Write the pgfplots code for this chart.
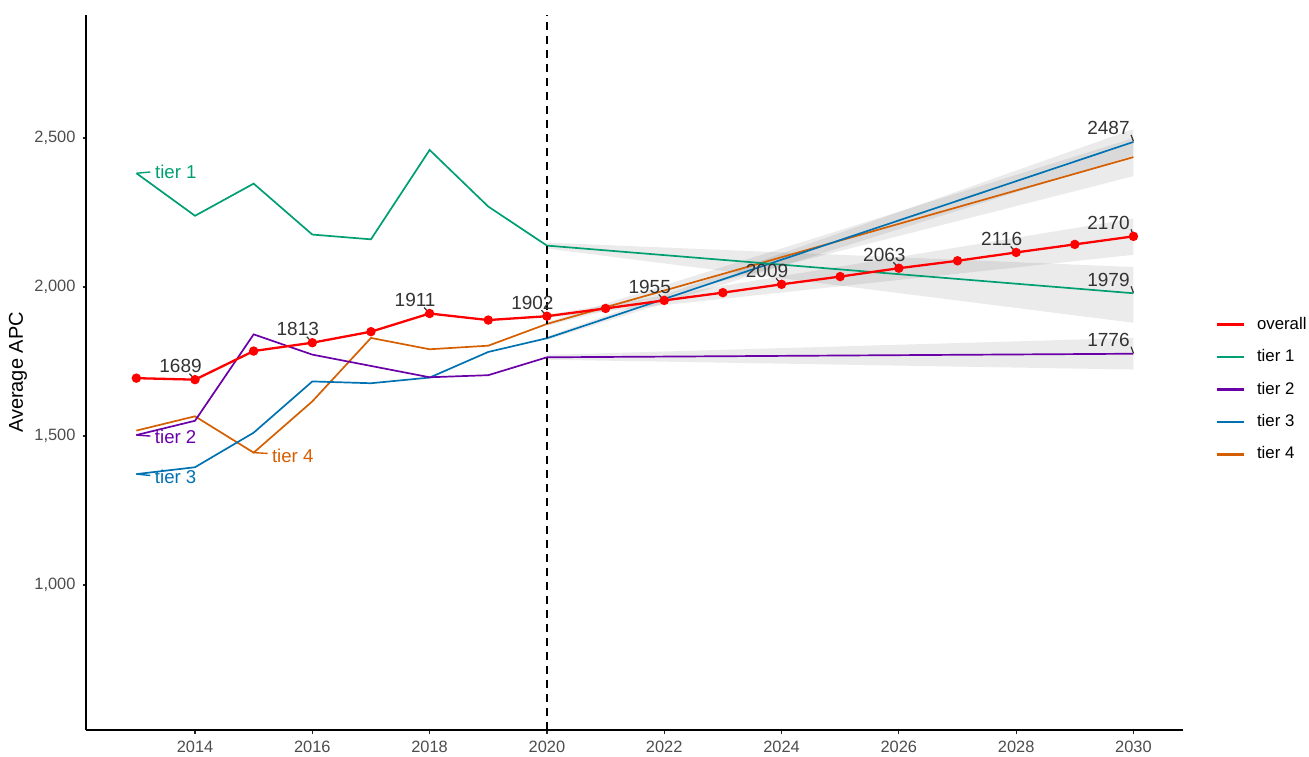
\documentclass[border=0pt]{standalone}
\usepackage{fontspec}
\setmainfont{Liberation Sans}
\usepackage{pgfplots}
\usepackage{pgfplotstable}
\pgfplotsset{compat=1.18}
\definecolor{cRed}{HTML}{FF0000}
\definecolor{cGreen}{HTML}{009E73}
\definecolor{cPurple}{HTML}{6A00A8}
\definecolor{cBlue}{HTML}{0072B2}
\definecolor{cOrange}{HTML}{D55E00}
\definecolor{tickgray}{HTML}{4D4D4D}
\definecolor{labgray}{HTML}{333333}

\pgfplotstableread{
year val
2013 1694
2014 1689
2015 1785
2016 1813
2017 1850
2018 1911
2019 1889
2020 1902
2021 1928
2022 1955
2023 1981
2024 2009
2025 2035
2026 2063
2027 2088
2028 2116
2029 2143
2030 2170
}\overall
\pgfplotstableread{
year val
2013 2382
2014 2239
2015 2347
2016 2176
2017 2160
2018 2460
2019 2270
2020 2139
2030 1979
}\tierA
\pgfplotstableread{
year val
2013 1503
2014 1551
2015 1841
2016 1773
2017 1735
2018 1697
2019 1704
2020 1764
2030 1776
}\tierB
\pgfplotstableread{
year val
2013 1372
2014 1395
2015 1511
2016 1683
2017 1677
2018 1696
2019 1782
2020 1828
2030 2487
}\tierC
\pgfplotstableread{
year val
2013 1518
2014 1566
2015 1444
2016 1616
2017 1829
2018 1791
2019 1803
2020 1876
2030 2436
}\tierD

\tikzset{
  vlab/.style={text=labgray, font=\fontsize{9.5}{11}\selectfont, inner sep=0pt},
  tlab/.style={font=\fontsize{9.3}{11}\selectfont, inner sep=0pt, anchor=west},
  lead/.style={labgray, line width=0.6pt},
}

\begin{document}
\begin{tikzpicture}
\begin{axis}[
  at={(0pt,0pt)}, anchor=south west,
  scale only axis, width=548.25pt, height=357.5pt,
  xmin=2012.15, xmax=2030.845, ymin=513, ymax=2913,
  axis x line*=bottom, axis y line*=left,
  axis line style={line width=1pt, black, -},
  xtick={2014,2016,2018,2020,2022,2024,2026,2028,2030},
  ytick={1000,1500,2000,2500},
  tick align=outside,
  major tick length=2pt,
  tick style={line width=0.6pt, black!85},
  /pgf/number format/assume math mode=true,
  xticklabel style={font=\fontsize{8.2}{9}\selectfont, text=tickgray, /pgf/number format/1000 sep={}},
  yticklabel style={font=\fontsize{8.2}{9}\selectfont, text=tickgray, /pgf/number format/fixed, /pgf/number format/precision=0, /pgf/number format/1000 sep={,}},
  ylabel={Average APC},
  ylabel style={font=\fontsize{10}{12}\selectfont, at={(axis description cs:-0.0625,0.5)}, anchor=center},
  legend style={at={(1.0292,0.4762)}, anchor=west, draw=none, fill=none, inner sep=0pt,
    font=\fontsize{8.4}{10}\selectfont, row sep=4.6pt, column sep=4pt},
  legend cell align=left,
  legend image code/.code={\draw[#1] (0pt,0pt) -- (13.5pt,0pt);},
]
% bands
\addplot[forget plot, draw=none, fill=black, fill opacity=0.08] coordinates {(2020,2149) (2030,2067) (2030,1880) (2020,2129) (2020,2149)};
\addplot[forget plot, draw=none, fill=black, fill opacity=0.08] coordinates {(2020,1772) (2030,1829) (2030,1723) (2020,1756) (2020,1772)};
\addplot[forget plot, draw=none, fill=black, fill opacity=0.08] coordinates {(2020,1834) (2030,2530) (2030,2442) (2020,1822) (2020,1834)};
\addplot[forget plot, draw=none, fill=black, fill opacity=0.08] coordinates {(2020,1882) (2030,2500) (2030,2372) (2020,1870) (2020,1882)};
\addplot[forget plot, draw=none, fill=black, fill opacity=0.08] coordinates {(2020,1907) (2030,2230) (2030,2108) (2020,1897) (2020,1907)};
% tier lines
\addplot[forget plot, cOrange, line width=0.85pt] table[x=year, y=val] {\tierD};
\addplot[forget plot, cBlue, line width=0.85pt] table[x=year, y=val] {\tierC};
\addplot[forget plot, cPurple, line width=0.85pt] table[x=year, y=val] {\tierB};
\addplot[forget plot, cGreen, line width=0.85pt] table[x=year, y=val] {\tierA};
% vertical dashed line
\addplot[forget plot, black, line width=0.9pt, dash pattern=on 4pt off 3pt] coordinates {(2020,513) (2020,2913)};
% overall
\addplot[forget plot, cRed, line width=1.15pt, mark=*, mark size=1.75pt, mark options={solid, fill=cRed, draw=cRed}] table[x=year, y=val] {\overall};

% legend
\addlegendimage{cRed, line width=1.3pt}\addlegendentry{overall}
\addlegendimage{cGreen, line width=1.3pt}\addlegendentry{tier 1}
\addlegendimage{cPurple, line width=1.3pt}\addlegendentry{tier 2}
\addlegendimage{cBlue, line width=1.3pt}\addlegendentry{tier 3}
\addlegendimage{cOrange, line width=1.3pt}\addlegendentry{tier 4}

% value labels
\node[vlab] at ([shift={(-7.25pt,6.8pt)}]axis cs:2014,1689) {1689};
\node[vlab] at ([shift={(-7.25pt,6.8pt)}]axis cs:2016,1813) {1813};
\node[vlab] at ([shift={(-7.25pt,6.8pt)}]axis cs:2018,1911) {1911};
\node[vlab] at ([shift={(-7.25pt,6.8pt)}]axis cs:2020,1902) {1902};
\node[vlab] at ([shift={(-7.25pt,6.8pt)}]axis cs:2022,1955) {1955};
\node[vlab] at ([shift={(-7.25pt,6.8pt)}]axis cs:2024,2009) {2009};
\node[vlab] at ([shift={(-7.25pt,6.8pt)}]axis cs:2026,2063) {2063};
\node[vlab] at ([shift={(-7.25pt,6.8pt)}]axis cs:2028,2116) {2116};
\node[vlab] at ([shift={(-12.5pt,6.8pt)}]axis cs:2030,2487) {2487};
\node[vlab] at ([shift={(-12.5pt,6.8pt)}]axis cs:2030,2170) {2170};
\node[vlab] at ([shift={(-12.5pt,6.8pt)}]axis cs:2030,1979) {1979};
\node[vlab] at ([shift={(-12.5pt,6.8pt)}]axis cs:2030,1776) {1776};
\draw[lead] ([shift={(-2.75pt,3pt)}]axis cs:2014,1689) -- ([shift={(-0.3pt,0.3pt)}]axis cs:2014,1689);
\draw[lead] ([shift={(-2.75pt,3pt)}]axis cs:2016,1813) -- ([shift={(-0.3pt,0.3pt)}]axis cs:2016,1813);
\draw[lead] ([shift={(-2.75pt,3pt)}]axis cs:2018,1911) -- ([shift={(-0.3pt,0.3pt)}]axis cs:2018,1911);
\draw[lead] ([shift={(-2.75pt,3pt)}]axis cs:2020,1902) -- ([shift={(-0.3pt,0.3pt)}]axis cs:2020,1902);
\draw[lead] ([shift={(-2.75pt,3pt)}]axis cs:2022,1955) -- ([shift={(-0.3pt,0.3pt)}]axis cs:2022,1955);
\draw[lead] ([shift={(-2.75pt,3pt)}]axis cs:2024,2009) -- ([shift={(-0.3pt,0.3pt)}]axis cs:2024,2009);
\draw[lead] ([shift={(-2.75pt,3pt)}]axis cs:2026,2063) -- ([shift={(-0.3pt,0.3pt)}]axis cs:2026,2063);
\draw[lead] ([shift={(-2.75pt,3pt)}]axis cs:2028,2116) -- ([shift={(-0.3pt,0.3pt)}]axis cs:2028,2116);
\draw[lead] ([shift={(-1.2pt,3.5pt)}]axis cs:2030,2487) -- ([shift={(0pt,0.3pt)}]axis cs:2030,2487);
\draw[lead] ([shift={(-1.2pt,3.5pt)}]axis cs:2030,2170) -- ([shift={(0pt,0.3pt)}]axis cs:2030,2170);
\draw[lead] ([shift={(-1.2pt,3.5pt)}]axis cs:2030,1979) -- ([shift={(0pt,0.3pt)}]axis cs:2030,1979);
\draw[lead] ([shift={(-1.2pt,3.5pt)}]axis cs:2030,1776) -- ([shift={(0pt,0.3pt)}]axis cs:2030,1776);
% tier labels
\draw[cGreen, line width=0.7pt] ([shift={(0.3pt,0pt)}]axis cs:2013,2382) -- ([shift={(7pt,0.6pt)}]axis cs:2013,2382);
\node[tlab, text=cGreen] at ([shift={(9.2pt,0.65pt)}]axis cs:2013,2382) {tier 1};
\draw[cPurple, line width=0.7pt] (axis cs:2013,1503) -- ([shift={(7pt,-0.5pt)}]axis cs:2013,1503);
\node[tlab, text=cPurple] at ([shift={(9.1pt,-0.85pt)}]axis cs:2013,1503) {tier 2};
\draw[cBlue, line width=0.7pt] (axis cs:2013,1372) -- ([shift={(7pt,-0.7pt)}]axis cs:2013,1372);
\node[tlab, text=cBlue] at ([shift={(9.1pt,-1.35pt)}]axis cs:2013,1372) {tier 3};
\draw[cOrange, line width=0.7pt] (axis cs:2015,1444) -- ([shift={(7pt,-0.4pt)}]axis cs:2015,1444);
\node[tlab, text=cOrange] at ([shift={(9pt,-1.65pt)}]axis cs:2015,1444) {tier 4};
\end{axis}
\pgfresetboundingbox
\path[use as bounding box] (-43.25pt,-13pt) rectangle (611.25pt,365pt);
\end{tikzpicture}
\end{document}
